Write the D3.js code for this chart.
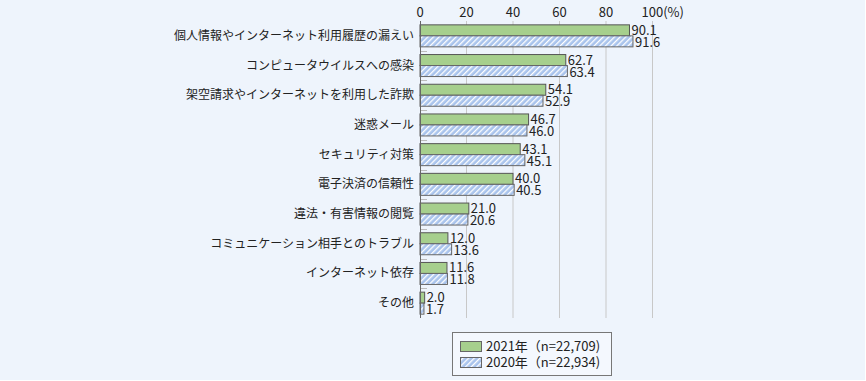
<!DOCTYPE html>
<html><head><meta charset="utf-8">
<script src="https://cdn.jsdelivr.net/npm/d3@7"></script>
<style>
html,body{margin:0;padding:0;background:#fff;}
svg{display:block;font-family:"Noto Sans CJK JP","Noto Sans",sans-serif;}
</style></head>
<body><svg id="c" width="866" height="381"></svg>
<script>
const categories = ["個人情報やインターネット利用履歴の漏えい","コンピュータウイルスへの感染","架空請求やインターネットを利用した詐欺","迷惑メール","セキュリティ対策","電子決済の信頼性","違法・有害情報の閲覧","コミュニケーション相手とのトラブル","インターネット依存","その他"];
const values2021 = [90.1,62.7,54.1,46.7,43.1,40.0,21.0,12.0,11.6,2.0];
const values2020 = [91.6,63.4,52.9,46.0,45.1,40.5,20.6,13.6,11.8,1.7];
const ticks = [0,20,40,60,80,100];
const seriesNames = ["2021年（n=22,709)","2020年（n=22,934)"];

const svg = d3.select("#c");
svg.append("rect").attr("x",0).attr("y",0).attr("width",865).attr("height",380).attr("fill","#eef4fc");
const defs = svg.append("defs");
const pat = defs.append("pattern").attr("id","hatch").attr("patternUnits","userSpaceOnUse")
  .attr("width",4).attr("height",4).attr("patternTransform","rotate(45)");
pat.append("rect").attr("width",4).attr("height",4).attr("fill","#a8c3ec");
pat.append("rect").attr("width",1.3).attr("height",4).attr("fill","#ffffff");

const x = d3.scaleLinear().domain([0,100]).range([420,652.5]);
const y = d3.scaleBand().domain(categories).range([21,318]);
const bh = 11;

// gridlines
svg.append("g").selectAll("line").data(ticks.slice(1)).join("line")
  .attr("x1",d=>x(d)).attr("x2",d=>x(d)).attr("y1",21).attr("y2",318)
  .attr("stroke","#c8c8c8").attr("stroke-width",1);

// top axis labels
svg.append("g").selectAll("text").data(ticks).join("text")
  .attr("x",d=>x(d)).attr("y",17).attr("text-anchor",d=>d===100?"start":"middle")
  .attr("dx",d=>d===100?-11:0)
  .attr("font-size",13).attr("fill","#222")
  .text(d=>d===100?"100(%)":d);

// category separators ticks
svg.append("g").selectAll("line").data(categories.slice(1)).join("line")
  .attr("x1",420).attr("x2",427).attr("y1",d=>Math.round(y(d))+0.5).attr("y2",d=>Math.round(y(d))+0.5)
  .attr("stroke","#bbb");

const g = svg.append("g");
categories.forEach((c,i)=>{
  const cy = y(c)+y.bandwidth()/2;
  g.append("rect").attr("x",x(0)).attr("y",cy-bh).attr("width",x(values2021[i])-x(0)).attr("height",bh)
    .attr("fill","#a6cf8d").attr("stroke","#555").attr("stroke-width",1);
  g.append("rect").attr("x",x(0)).attr("y",cy).attr("width",x(values2020[i])-x(0)).attr("height",bh)
    .attr("fill","url(#hatch)").attr("stroke","#666").attr("stroke-width",1);
  g.append("text").attr("x",x(values2021[i])+2).attr("y",cy-1).attr("font-size",13).attr("fill","#222")
    .text(values2021[i].toFixed(1));
  g.append("text").attr("x",x(values2020[i])+2).attr("y",cy+11).attr("font-size",13).attr("fill","#222")
    .text(values2020[i].toFixed(1));
  g.append("text").attr("x",414).attr("y",cy+4).attr("text-anchor","end").attr("font-size",12).attr("fill","#222")
    .text(c);
});

// left axis line
svg.append("line").attr("x1",420.5).attr("x2",420.5).attr("y1",21).attr("y2",318).attr("stroke","#666");

// legend
const lg = svg.append("g");
lg.append("rect").attr("x",452.5).attr("y",332.5).attr("width",159).attr("height",43).attr("fill","#f4f8fe").attr("stroke","#777");
const fills = ["#a6cf8d","url(#hatch)"];
seriesNames.forEach((s,i)=>{
  lg.append("rect").attr("x",460.5).attr("y",341.5+i*16).attr("width",21).attr("height",10)
    .attr("fill",fills[i]).attr("stroke","#666");
  lg.append("text").attr("x",486).attr("y",351+i*16).attr("font-size",13).attr("fill","#222").text(s);
});
</script></body></html>
